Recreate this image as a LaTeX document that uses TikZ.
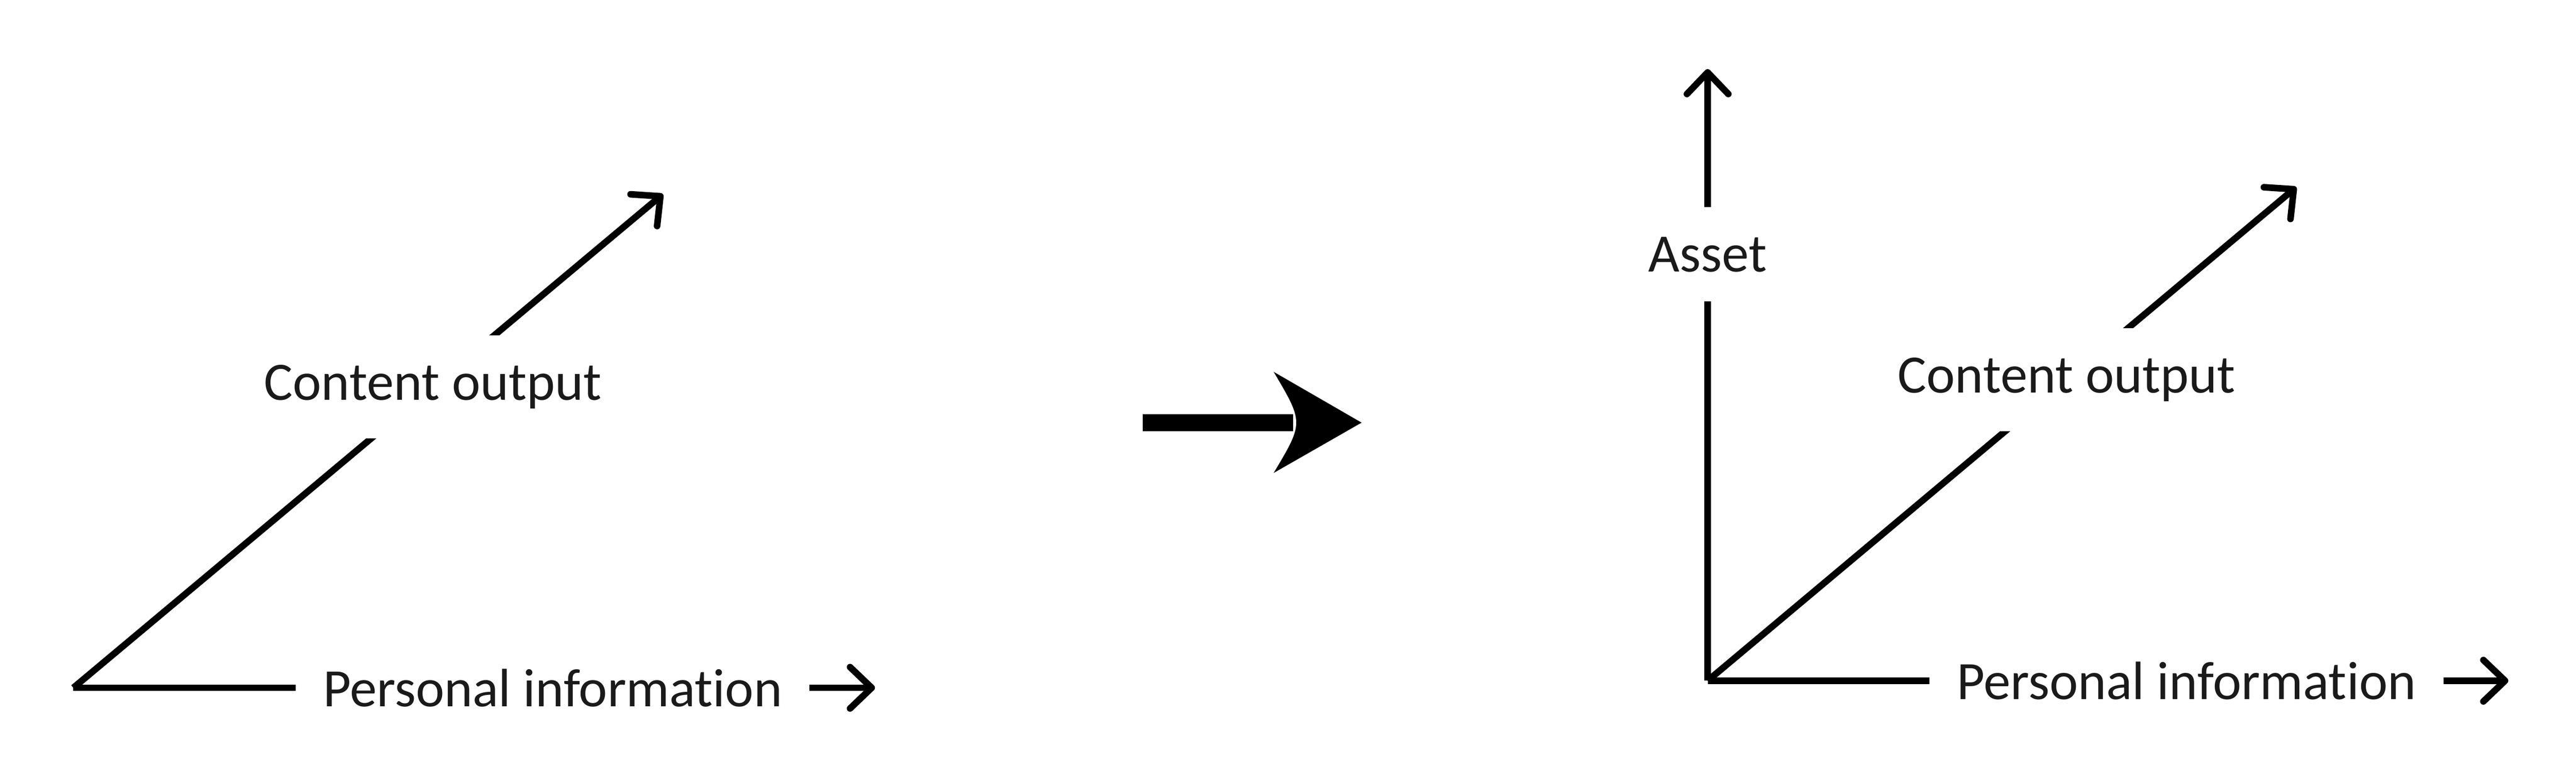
\documentclass[tikz,border=0pt]{standalone}
\usepackage{fontspec}
\setmainfont{Carlito}[Ligatures=NoCommon]
\usepackage{xcolor}
\usepackage{tikz}
\usetikzlibrary{arrows.meta, positioning}
\definecolor{labelcolor}{HTML}{1A1A1A}
\definecolor{axiscolor}{HTML}{000000}

\begin{document}
\begin{tikzpicture}[
  axis/.style={
    line width=0.14cm, axiscolor,
    -{Straight Barb[length=0.46cm, width=0.88cm, round]}
  },
  lbl/.style={
    fill=white, inner xsep=0.58cm, inner ysep=0.63cm, text=labelcolor,
    font=\fontsize{32.7}{39}\selectfont
  },
  bigshaft/.style={line width=0.36cm, axiscolor},
  bighead/.style={fill=axiscolor}
]
  \useasboundingbox (0,0) rectangle (54.79,16.61);

  % ── Left diagram: two dimensions ──
  \coordinate (o1) at (1.56,1.98);
  \coordinate (pi1) at (18.61,1.98);
  \coordinate (co1) at (14.10,12.48);

  \draw[axis] (o1) -- node[lbl, pos=0.598] (pilbl1) {Personal information} (pi1);
  \draw[axis] (o1) -- node[lbl, pos=0.61] (colbl1) {Content output} (co1);

  % ── Transition arrow ──
  \coordinate (m0) at (24.30,7.62);
  \coordinate (mb) at (27.50,7.62);
  \coordinate (m1) at (28.96,7.62);
  \draw[bigshaft] (m0) -- (mb);
  \fill[bighead] (m1) -- (27.09,8.70) .. controls (27.73,7.62) .. (27.09,6.55) -- cycle;

  % ── Right diagram: three dimensions ──
  \coordinate (o2) at (36.32,2.13);
  \coordinate (pi2) at (53.35,2.13);
  \coordinate (co2) at (48.84,12.63);
  \coordinate (as2) at (36.32,15.14);

  \draw[axis] (o2) -- node[lbl, pos=0.697] (aslbl2) {Asset} (as2);
  \draw[axis] (o2) -- node[lbl, pos=0.598] (pilbl2) {Personal information} (pi2);
  \draw[axis] (o2) -- node[lbl, pos=0.61] (colbl2) {Content output} (co2);

\end{tikzpicture}
\end{document}
